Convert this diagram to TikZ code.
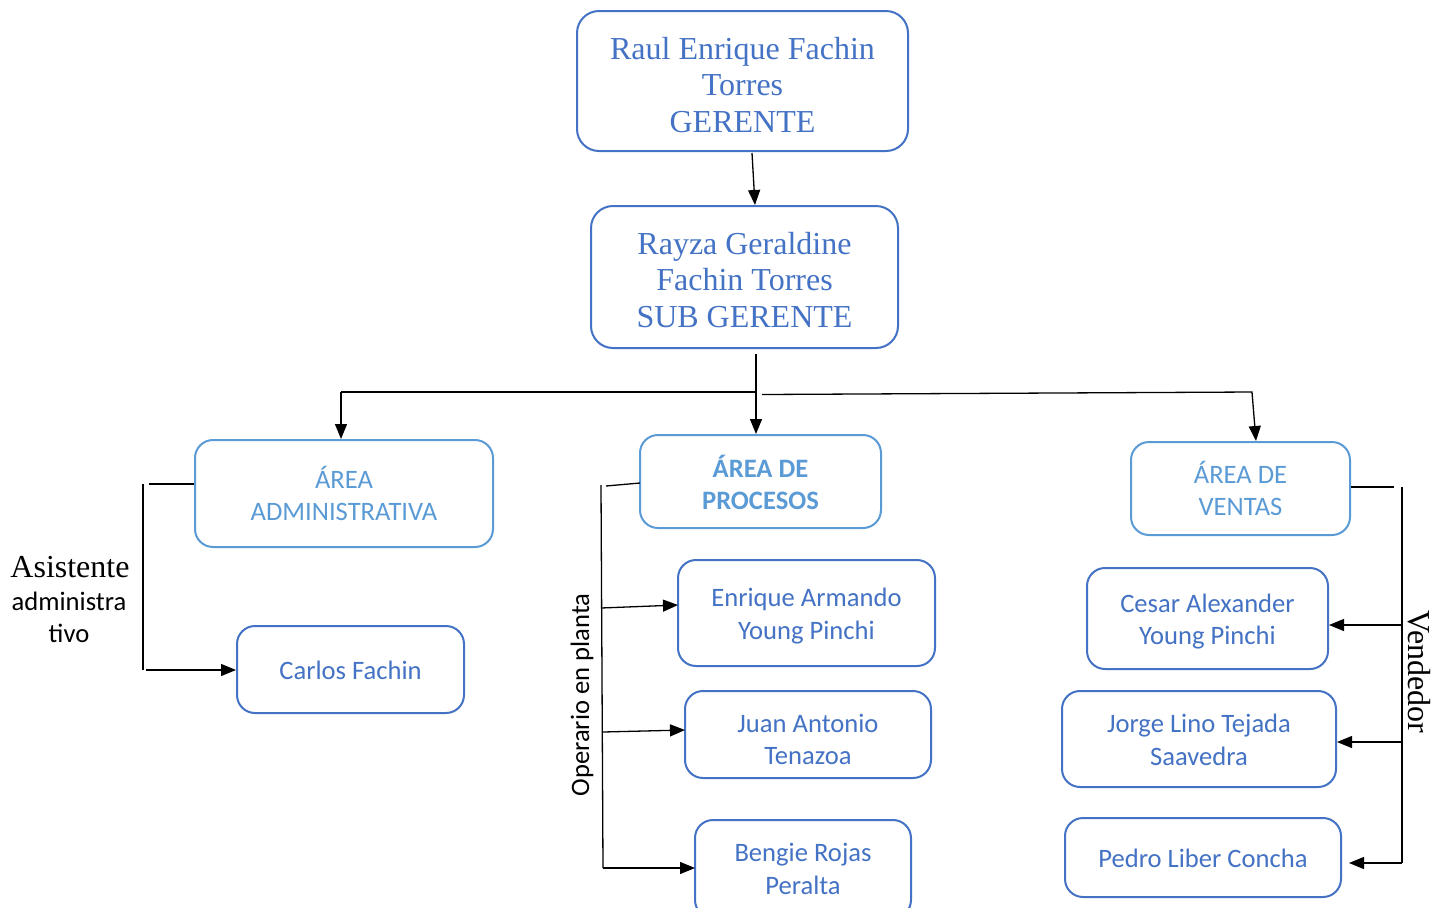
\documentclass[tikz,border=0pt]{standalone}
\usepackage{fontspec}
\setmainfont{Liberation Serif}
\newfontfamily\calfont{Carlito}
\usetikzlibrary{arrows.meta}
\definecolor{dblue}{HTML}{4472C4}
\definecolor{lblue}{HTML}{5B9BD5}
\tikzset{
  topbox/.style={draw=dblue, line width=1pt, rounded corners=11pt, inner sep=0pt},
  areabox/.style={draw=lblue, line width=1pt, rounded corners=9pt, inner sep=0pt},
  perbox/.style={draw=dblue, line width=1pt, rounded corners=9pt, inner sep=0pt},
  toptext/.style={text=dblue, align=center, font=\fontsize{16}{18.4}\selectfont, inner sep=0pt},
  areatext/.style={text=lblue, align=center, font=\calfont\fontsize{13.3}{16.2}\selectfont, inner sep=0pt},
  pertext/.style={text=dblue, align=center, font=\calfont\fontsize{13.3}{16.2}\selectfont, inner sep=0pt},
  conn/.style={line width=0.65pt, black},
  arr/.style={conn, -{Triangle[length=7.5pt,width=6pt]}},
  serifl/.style={font=\fontsize{16}{18.4}\selectfont},
  sansl/.style={font=\calfont\fontsize{13.3}{16.2}\selectfont},
}
\begin{document}
\begin{tikzpicture}[x=0.5pt,y=-0.5pt]
\clip (0,0) rectangle (1448,907);
\fill[white] (0,0) rectangle (1448,907);

% boxes
\node[topbox, minimum width=165.5pt, minimum height=70pt] (ger) at (742.5,81) {};
\node[toptext] (gert) at ([yshift=-2pt]ger.center) {Raul Enrique Fachin\\Torres\\GERENTE};
\node[topbox, minimum width=153.5pt, minimum height=71pt] (sub) at (744.5,277) {};
\node[toptext] (subt) at ([yshift=-1.5pt]sub.center) {Rayza Geraldine\\Fachin Torres\\SUB GERENTE};
\node[areabox, minimum width=149pt, minimum height=53.5pt] (adm) at (344,493.5) {};
\node[areatext] (admt) at (adm.center) {ÁREA\\ADMINISTRATIVA};
\node[areabox, minimum width=120.5pt, minimum height=46.5pt] (proc) at (760.5,481.5) {};
\node[areatext, font=\calfont\bfseries\fontsize{13.3}{16.2}\selectfont] (proct) at ([yshift=-0.5pt]proc.center) {ÁREA DE\\PROCESOS};
\node[areabox, minimum width=109.5pt, minimum height=46.5pt] (ven) at (1240.5,488.5) {};
\node[areatext] (vent) at (ven.center) {ÁREA DE\\VENTAS};
\node[perbox, minimum width=113.5pt, minimum height=43.5pt] (car) at (350.5,669.5) {};
\node[pertext] (cart) at ([yshift=-0.5pt]car.center) {Carlos Fachin};
\node[perbox, minimum width=128.5pt, minimum height=53pt] (enr) at (806.5,613) {};
\node[pertext] (enrt) at ([yshift=-1.5pt]enr.center) {Enrique Armando\\Young Pinchi};
\node[perbox, minimum width=123pt, minimum height=43.5pt] (jua) at (808,734.5) {};
\node[pertext] (juat) at ([yshift=-2.5pt]jua.center) {Juan Antonio\\Tenazoa};
\node[perbox, minimum width=108pt, minimum height=49pt] (ben) at (803,869) {};
\node[pertext] (bent) at (ben.center) {Bengie Rojas\\Peralta};
\node[perbox, minimum width=120.5pt, minimum height=50.5pt] (ces) at (1207.5,618.5) {};
\node[pertext] (cest) at ([yshift=-1.5pt]ces.center) {Cesar Alexander\\Young Pinchi};
\node[perbox, minimum width=137pt, minimum height=48pt] (jor) at (1199,739) {};
\node[pertext] (jort) at ([yshift=-0.5pt]jor.center) {Jorge Lino Tejada\\Saavedra};
\node[perbox, minimum width=138pt, minimum height=39.5pt] (ped) at (1203,857.5) {};
\node[pertext] (pedt) at ([yshift=-0.5pt]ped.center) {Pedro Liber Concha};

% side labels
\node[serifl, anchor=base] (lasis) at (70,577) {Asistente};
\node[sansl, anchor=base] (ladm) at (69,610) {administra};
\node[sansl, anchor=base] (ltiv) at (69,642) {tivo};
\node[sansl, rotate=90] (lope) at (582,695) {Operario en planta};
\node[serifl, rotate=-90] (lven) at (1419,672) {Vendedor};

% top connectors
\coordinate (g1) at (752,153);
\coordinate (g2) at (755,205);
\draw[arr] (g1) -- (g2);
\coordinate (s1) at (756,354);
\coordinate (s2) at (756,392);
\coordinate (sl) at (341,392);
\coordinate (sr0) at (762,394.5);
\coordinate (sr1) at (1252,392);
\coordinate (sr2) at (1256,441);
\draw[arr] (s1) -- (s1 |- proc.north);
\draw[conn] (sl) -- (s2);
\draw[arr] (sl) -- (sl |- adm.north);
\draw[arr] (sr0) -- (sr1) -- (sr2);

% admin bracket
\coordinate (a0) at (149,484);
\coordinate (a1) at (143,484);
\coordinate (a2) at (143,670);
\coordinate (a3) at (146,670);
\draw[conn] (adm.west |- a0) -- (a0);
\draw[conn] (a1) -- (a2);
\draw[arr] (a3) -- (car.west |- a3);

% procesos bracket
\coordinate (pw) at (640,483);
\coordinate (p0) at (606,486);
\coordinate (p1) at (601,485);
\coordinate (p2) at (603,868);
\coordinate (pe0) at (601,608);
\coordinate (pe1) at (678,605);
\coordinate (pj0) at (603,732);
\coordinate (pj1) at (685,730);
\coordinate (pb1) at (695,868);
\draw[conn] (pw) -- (p0);
\draw[conn] (p1) -- (p2);
\draw[arr] (pe0) -- (pe1);
\draw[arr] (pj0) -- (pj1);
\draw[arr] (p2) -- (pb1);

% ventas bracket
\coordinate (v0) at (1394,487);
\coordinate (v1) at (1402,487);
\coordinate (v2) at (1402,863);
\coordinate (vc) at (1402,625);
\coordinate (vj) at (1402,742);
\coordinate (vp) at (1349,863);
\draw[conn] (ven.east |- v0) -- (v0);
\draw[conn] (v1) -- (v2);
\draw[arr] (vc) -- (ces.east |- vc);
\draw[arr] (vj) -- (jor.east |- vj);
\draw[arr] (v2) -- (vp);
\end{tikzpicture}
\end{document}
